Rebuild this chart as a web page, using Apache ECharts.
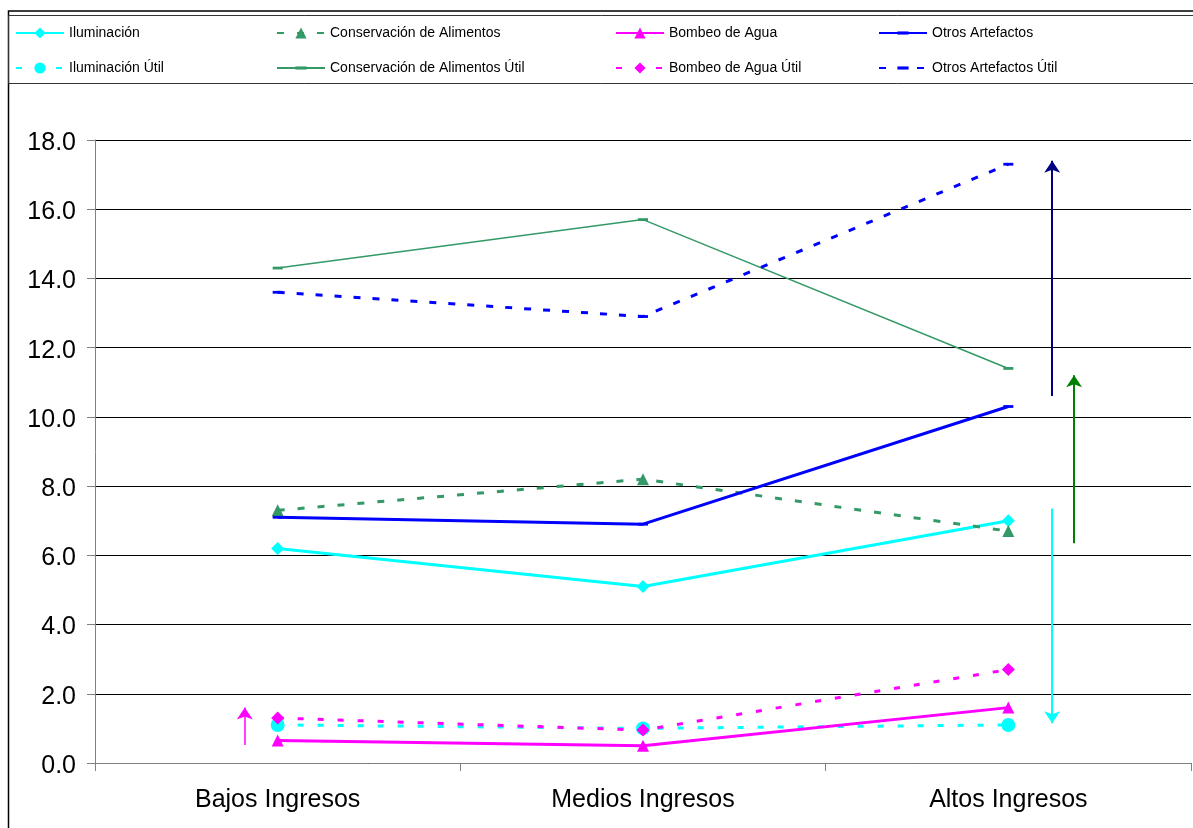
<!DOCTYPE html>
<html>
<head>
<meta charset="utf-8">
<script src="https://cdn.jsdelivr.net/npm/echarts@6/dist/echarts.min.js"></script>
<style>
  html, body { margin: 0; padding: 0; background: #fff; }
  #chart { width: 1193px; height: 828px; }
</style>
</head>
<body>
<div id="chart"></div>
<script>
// Income groups on the x axis
const categories = ['Bajos Ingresos', 'Medios Ingresos', 'Altos Ingresos'];

// Consumption per end use
const iluminacion = [6.2, 5.1, 7.0];
const iluminacionUtil = [1.1, 1.0, 1.1];
const conservacion = [7.3, 8.2, 6.7];
const conservacionUtil = [14.3, 15.7, 11.4];
const bombeo = [0.65, 0.5, 1.6];
const bombeoUtil = [1.3, 0.95, 2.7];
const otros = [7.1, 6.9, 10.3];
const otrosUtil = [13.6, 12.9, 17.3];

// Y axis ticks
const yMin = 0, yMax = 18, yStep = 2;

// Change arrows: [x on a 0..3 scale across the three groups, y from, y to]
const arrowBombeo = [0.41, 0.52, 1.6];
const arrowOtros = [2.62, 10.6, 17.4];
const arrowConservacion = [2.68, 6.35, 11.2];
const arrowIluminacion = [2.62, 7.35, 1.15];

const FONT = 'Liberation Sans, Arial, sans-serif';
const CYAN = '#00FFFF', GREEN = '#339966', MAGENTA = '#FF00FF', BLUE = '#0000FF';
// Flat dash marker, kept inside a square box so it stays flat in the legend too
const DASH = 'path://M0,0M0,3.6h10v2.8h-10zM10,10';

function lineSeries(name, data, color, width, type, symbol, size) {
  return {
    name, type: 'line', data,
    xAxisIndex: 0, yAxisIndex: 0,
    symbol, symbolSize: size, showSymbol: true,
    lineStyle: { color, width, type, cap: 'butt' },
    itemStyle: { color, borderWidth: 0 },
    emphasis: { disabled: true },
    animation: false, z: 3
  };
}

function arrow(a, color, width) {
  return {
    type: 'lines', coordinateSystem: 'cartesian2d',
    xAxisIndex: 1, yAxisIndex: 0,
    symbol: ['none', 'arrow'], symbolSize: [10, 12],
    lineStyle: { color, width, opacity: 1, curveness: 0 },
    data: [{ coords: [[a[0], a[1]], [a[0], a[2]]] }],
    animation: false, silent: true, z: 4
  };
}

const legendBase = {
  orient: 'vertical', top: 26, padding: 0, itemGap: 21, itemWidth: 48, itemHeight: 14,
  textStyle: { fontSize: 14, fontFamily: FONT, color: '#000' },
  selectedMode: false
};

const chart = echarts.init(document.getElementById('chart'), null, { renderer: 'canvas' });
chart.setOption({
  backgroundColor: '#fff',
  animation: false,
  graphic: [
    { type: 'rect', shape: { x: 8.5, y: 11, width: 1300, height: 900 },
      style: { fill: 'none', stroke: '#000', lineWidth: 1.5 }, silent: true, z: -1 },
    { type: 'rect', shape: { x: 8.5, y: 15.5, width: 1300, height: 68 },
      style: { fill: 'none', stroke: '#333', lineWidth: 1 }, silent: true, z: -1 }
  ],
  legend: [
    Object.assign({ left: 15, data: ['Iluminación', 'Iluminación Útil'] }, legendBase),
    Object.assign({ left: 276, data: ['Conservación de Alimentos', 'Conservación de Alimentos Útil'] }, legendBase),
    Object.assign({ left: 615, data: ['Bombeo de Agua', 'Bombeo de Agua Útil'] }, legendBase),
    Object.assign({ left: 878, data: ['Otros Artefactos', 'Otros Artefactos Útil'] }, legendBase)
  ],
  grid: { left: 95, top: 140, right: 2, bottom: 65, containLabel: false },
  xAxis: [
    {
      type: 'category', data: categories, boundaryGap: true,
      axisLine: { show: true, lineStyle: { color: '#808080', width: 1 } },
      axisTick: { show: true, length: 8, inside: false, lineStyle: { color: '#808080' } },
      axisLabel: { fontSize: 25, fontFamily: FONT, color: '#000', margin: 25 }
    },
    { type: 'value', min: 0, max: 3, show: false }
  ],
  yAxis: {
    type: 'value', min: yMin, max: yMax, interval: yStep,
    axisLine: { show: true, lineStyle: { color: '#808080', width: 1 } },
    axisTick: { show: true, length: 8, lineStyle: { color: '#808080' } },
    axisLabel: { fontSize: 25, fontFamily: FONT, color: '#000', margin: 19,
      formatter: v => '{v|' + v.toFixed(1) + '}',
      rich: { v: { fontSize: 25, fontFamily: FONT, color: '#000', padding: [6, 0, 0, 0] } } },
    splitLine: { show: true, lineStyle: { color: '#000', width: 1 } }
  },
  series: [
    lineSeries('Iluminación', iluminacion, CYAN, 3, 'solid', 'diamond', 13),
    lineSeries('Iluminación Útil', iluminacionUtil, CYAN, 3, [6, 14], 'circle', 14),
    lineSeries('Conservación de Alimentos', conservacion, GREEN, 3, [7, 13], 'triangle', 12),
    lineSeries('Conservación de Alimentos Útil', conservacionUtil, GREEN, 1.5, 'solid', DASH, 10),
    lineSeries('Bombeo de Agua', bombeo, MAGENTA, 3, 'solid', 'triangle', 12),
    lineSeries('Bombeo de Agua Útil', bombeoUtil, MAGENTA, 3, [6, 14], 'diamond', 13),
    lineSeries('Otros Artefactos', otros, BLUE, 3, 'solid', DASH, 10),
    lineSeries('Otros Artefactos Útil', otrosUtil, BLUE, 3, [7, 12], DASH, 10),
    arrow(arrowBombeo, MAGENTA, 1.5),
    arrow(arrowOtros, '#000080', 2),
    arrow(arrowConservacion, '#008000', 2),
    arrow(arrowIluminacion, CYAN, 2)
  ]
});
</script>
</body>
</html>
